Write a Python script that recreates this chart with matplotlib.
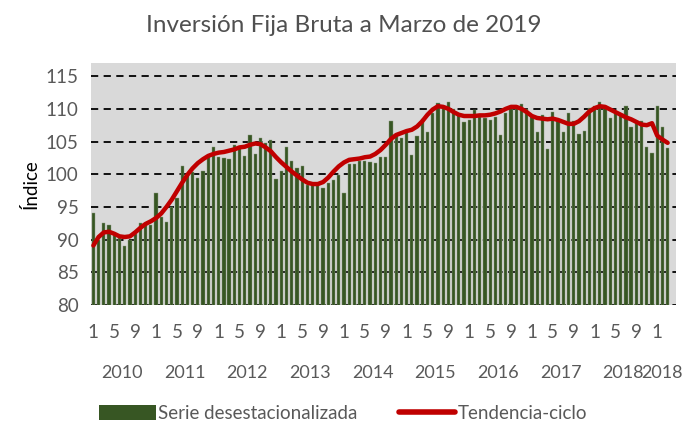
import numpy as np
import matplotlib
matplotlib.use("Agg")
import matplotlib.pyplot as plt
import matplotlib.transforms as mtransforms
from matplotlib.lines import Line2D
from matplotlib.patches import Patch

# monthly data, Jan 2010 - Mar 2019
serie = [
    94.1, 90.0, 92.5, 92.2, 90.7, 90.2, 89.0, 90.0, 90.8, 92.5, 92.6, 92.2,   # 2010
    97.2, 93.5, 92.7, 95.0, 96.3, 101.3, 99.9, 100.3, 99.4, 100.5, 102.8, 104.1,  # 2011
    102.7, 102.5, 102.4, 104.4, 104.2, 102.8, 106.0, 103.1, 105.6, 104.8, 105.2, 99.3,  # 2012
    100.5, 104.2, 102.0, 101.0, 101.3, 98.4, 98.6, 98.3, 97.9, 98.6, 99.1, 99.9,  # 2013
    97.2, 101.6, 101.6, 102.0, 102.0, 101.9, 101.7, 102.7, 102.6, 108.2, 106.0, 105.6,  # 2014
    106.5, 103.0, 105.9, 108.5, 106.4, 109.4, 110.9, 110.4, 111.0, 109.9, 109.1, 108.0,  # 2015
    108.3, 109.8, 108.7, 108.6, 108.3, 108.7, 106.0, 109.4, 110.1, 110.5, 110.8, 109.9,  # 2016
    109.1, 106.4, 109.1, 103.9, 109.5, 108.1, 106.4, 109.3, 108.2, 106.2, 106.6, 110.2,  # 2017
    110.5, 111.0, 110.4, 108.6, 109.4, 109.1, 110.4, 107.2, 108.1, 108.1, 104.2, 103.3,  # 2018
    110.5, 107.2, 104.0,  # 2019
]
tendencia = [
    89.1, 90.4, 91.1, 91.2, 90.9, 90.5, 90.4, 90.5, 91.1, 91.8, 92.4, 92.8,
    93.3, 94.0, 95.0, 96.1, 97.4, 98.7, 99.9, 100.9, 101.7, 102.3, 102.8, 103.1,
    103.3, 103.4, 103.6, 103.8, 104.1, 104.2, 104.5, 104.7, 104.6, 104.1, 103.5, 102.6,
    101.8, 101.1, 100.4, 99.8, 99.2, 98.7, 98.5, 98.5, 98.8, 99.5, 100.4, 101.2,
    101.8, 102.2, 102.3, 102.4, 102.6, 102.7, 103.1, 103.7, 104.5, 105.4, 106.0, 106.3,
    106.6, 106.8, 107.3, 108.1, 109.1, 109.9, 110.4, 110.3, 110.0, 109.5, 109.1, 108.9,
    108.9, 108.9, 109.0, 109.0, 109.1, 109.3, 109.6, 110.0, 110.3, 110.3, 110.0, 109.5,
    108.9, 108.6, 108.5, 108.4, 108.5, 108.3, 108.0, 107.7, 107.7, 108.1, 108.8, 109.6,
    110.1, 110.4, 110.3, 109.9, 109.5, 109.1, 108.7, 108.4, 108.0, 107.6, 107.5, 107.8,
    105.9, 105.3, 104.8,
]
year_labels = ['2010', '2011', '2012', '2013', '2014', '2015', '2016', '2017', '2018', '2018']
month_ticks = [1, 5, 9]

plt.rcParams['font.family'] = ['Lato', 'DejaVu Sans']
txt = '#595959'
fs = 13.5

x = np.arange(len(serie))
months = x % 12 + 1

fig = plt.figure(figsize=(6.87, 4.26), dpi=100)
ax = fig.add_axes([0.1325, 0.284, 0.8515, 0.568])
ax.set_facecolor('#D9D9D9')

ax.bar(x, serie, width=0.62, bottom=0, color='#375623', edgecolor='#8a9a80', linewidth=0.3, zorder=2)
ax.plot(x, tendencia, color='#C00000', linewidth=3.2, solid_capstyle='round', zorder=3)

ax.set_ylim(80, 117)
ax.set_xlim(-0.45, len(serie) + 0.6)
ax.set_yticks(range(80, 116, 5))
ax.tick_params(axis='y', length=0, labelsize=fs, labelcolor=txt, pad=9)
for v in range(80, 116, 5):
    ax.axhline(v, color='black', linestyle=(0, (4, 3)), linewidth=1.3, zorder=1)

sel = [i for i in x if months[i] in month_ticks]
ax.set_xticks(sel)
ax.set_xticklabels([str(months[i]) for i in sel])
ax.tick_params(axis='x', length=0, labelsize=fs, labelcolor=txt, pad=14)

# year labels under the month labels
trans = mtransforms.blended_transform_factory(ax.transData, ax.transAxes)
for k, lab in enumerate(year_labels):
    idx = [i for i in x if i // 12 == k]
    ax.text(np.mean(idx), -0.28, lab, transform=trans, ha='center', va='center',
            fontsize=13, color=txt)

for s in ax.spines.values():
    s.set_visible(False)

ax.set_ylabel('Índice', fontsize=fs, color='black', labelpad=4)

fig.text(0.5, 0.94, 'Inversión Fija Bruta a Marzo de 2019', ha='center', va='center',
         fontsize=17.5, color='#505050')

handles = [Patch(facecolor='#375623', edgecolor='none'),
           Line2D([0], [0], color='#C00000', linewidth=4, solid_capstyle='round')]
fig.legend(handles, ['Serie desestacionalizada', 'Tendencia-ciclo'], loc='center',
           bbox_to_anchor=(0.50, 0.03), ncol=2, frameon=False, fontsize=fs,
           labelcolor=txt, handlelength=3.0, handleheight=0.9, handletextpad=0.15,
           columnspacing=2.2)

fig.savefig('out.png', dpi=100)
